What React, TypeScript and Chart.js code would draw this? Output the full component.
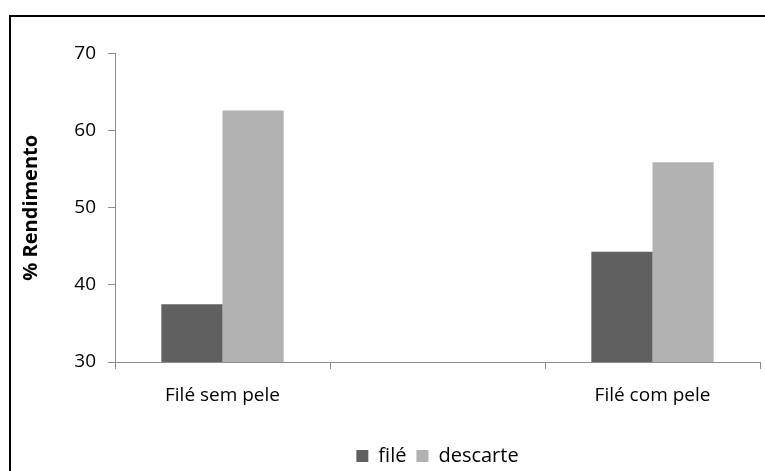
import React, { useEffect, useRef } from "react";
import { Chart, registerables } from "chart.js";

Chart.register(...registerables);

const categories = ["Filé sem pele", "", "Filé com pele"];
const fileValues = [37.5, null, 44.3];
const descarteValues = [62.6, null, 55.9];
const seriesNames = ["filé", "descarte"];
const yMin = 30;
const yMax = 70;
const yStep = 10;

const FONT = "'Open Sans', 'Noto Sans', sans-serif";
const AXIS = "#8c8c8c";

export default function App() {
  const ref = useRef<HTMLCanvasElement | null>(null);

  useEffect(() => {
    if (!ref.current) return;
    const chart = new Chart(ref.current, {
      type: "bar",
      data: {
        labels: categories,
        datasets: [
          {
            label: seriesNames[0],
            data: fileValues,
            backgroundColor: "#606060",
            borderWidth: 0,
          },
          {
            label: seriesNames[1],
            data: descarteValues,
            backgroundColor: "#b2b2b2",
            borderWidth: 0,
          },
        ],
      },
      options: {
        animation: false,
        responsive: false,
        maintainAspectRatio: false,
        devicePixelRatio: 1,
        layout: { padding: { top: 53.5, right: 5, bottom: 0, left: 0 } },
        datasets: {
          bar: { categoryPercentage: 0.569, barPercentage: 1 },
        },
        scales: {
          x: {
            grid: {
              display: true,
              drawOnChartArea: false,
              offset: true,
              tickLength: 7,
              color: AXIS,
            },
            border: { color: AXIS, width: 1 },
            ticks: {
              color: "#000",
              font: { family: FONT, size: 19 },
              padding: 15,
              maxRotation: 0,
              autoSkip: false,
            },
            afterFit: (scale: any) => {
              scale.height = 74;
            },
          },
          y: {
            min: yMin,
            max: yMax,
            grid: {
              display: true,
              drawOnChartArea: false,
              tickLength: 7,
              color: AXIS,
            },
            border: { color: AXIS, width: 1 },
            ticks: {
              stepSize: yStep,
              color: "#000",
              font: { family: FONT, size: 19 },
              padding: 12,
            },
            title: {
              display: true,
              text: "% Rendimento",
              color: "#000",
              font: { family: FONT, size: 20, weight: "bold" },
              padding: { top: 19, bottom: 0 },
            },
            afterFit: (scale: any) => {
              scale.width = 115;
            },
          },
        },
        plugins: {
          legend: {
            position: "bottom",
            fullSize: false,
            labels: {
              boxWidth: 12,
              boxHeight: 12,
              padding: 10,
              color: "#000",
              font: { family: FONT, size: 20 },
            },
          },
          tooltip: { enabled: false },
        },
      },
    });
    return () => chart.destroy();
  }, []);

  return (
    <div
      style={{
        position: "fixed",
        left: 0,
        top: 0,
        width: 765,
        height: 471,
        overflow: "hidden",
        background: "#fff",
      }}
    >
      <canvas
        ref={ref}
        width={765}
        height={476}
        style={{ position: "absolute", left: 0, top: 0, width: 765, height: 476 }}
      />
      <div
        style={{
          position: "absolute",
          left: 9,
          top: 15,
          width: 900,
          height: 520,
          borderLeft: "2px solid #000",
          borderTop: "2px solid #000",
          pointerEvents: "none",
        }}
      />
    </div>
  );
}
